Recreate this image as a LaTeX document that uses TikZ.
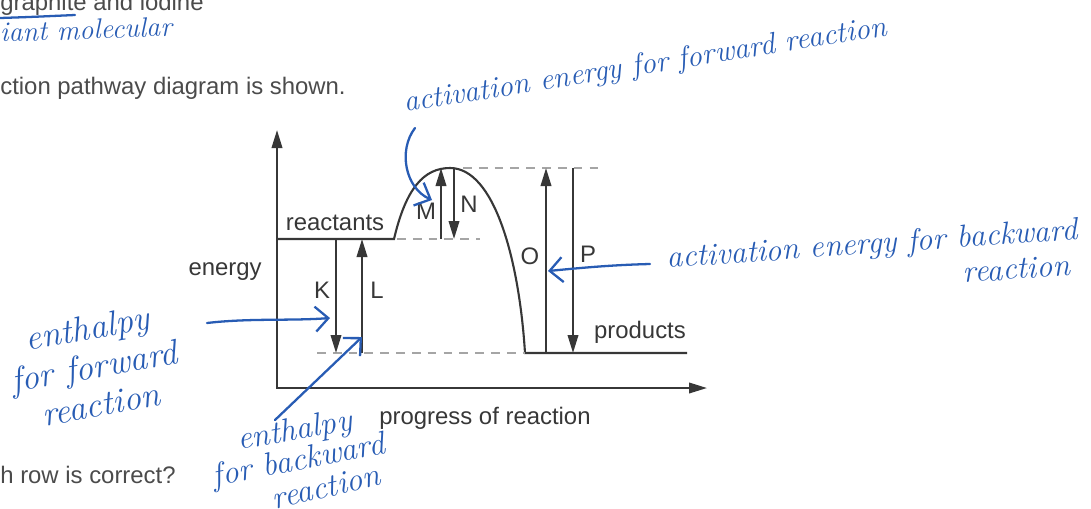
\documentclass[tikz,border=0pt]{standalone}
\usepackage{fontspec}
\newfontfamily\printfont{Liberation Sans}
\usetikzlibrary{arrows.meta}
\definecolor{InkGrey}{RGB}{55,55,55}
\definecolor{DashGrey}{RGB}{165,165,165}
\definecolor{TextGrey}{RGB}{75,75,75}
\definecolor{PenBlue}{RGB}{40,92,180}
\tikzset{
  >={Triangle[length=0.36cm,width=0.21cm]},
  axisline/.style={<->, line width=1.2pt, draw=InkGrey},
  levelline/.style={line width=1.2pt, draw=InkGrey},
  guide/.style={line width=0.9pt, draw=DashGrey, dash pattern=on 5pt off 4pt},
  gaparrow/.style={->, line width=1.2pt, draw=InkGrey},
  printlabel/.style={font=\printfont\fontsize{13.6}{16}\selectfont, text=InkGrey, inner sep=0pt, anchor=base},
  qtext/.style={printlabel, text=TextGrey, anchor=base west},
  inkline/.style={line width=1.3pt, draw=PenBlue, line cap=round, line join=round},
  inkarrow/.style={inkline, -{Straight Barb[length=0.26cm,width=0.5cm]}},
  inknote/.style args={#1/#2}{font=\itshape\fontsize{#1}{#2}\selectfont, text=PenBlue, inner sep=0pt, align=center},
}
\begin{document}
\begin{tikzpicture}[x=0.02cm, y=-0.02cm]
  \useasboundingbox (0,0) rectangle (1091,508);
  \clip (0,0) rectangle (1091,508);
  % question text
  \node[qtext] (qtop) at (0,10) {graphite and iodine};
  \node[qtext] (qpath) at (0,94) {ction pathway diagram is shown.};
  \node[qtext] (qrow) at (0,483) {h row is correct?};
  % axes
  \coordinate (ytip) at (277,130);
  \coordinate (xtip) at (707,388);
  \draw[axisline] (ytip) |- (xtip);
  \node[printlabel, anchor=base east] (elab) at (262,275) {energy};
  \node[printlabel] (plab) at (485,424) {progress of reaction};
  % energy profile
  \coordinate (rstart) at (277,239);
  \coordinate (hump) at (394,239);
  \coordinate (peak) at (450,168);
  \coordinate (drop) at (525,353);
  \coordinate (pend) at (687,353);
  \draw[levelline] (rstart) -- (hump)
    .. controls (406,188) and (424,168) .. (peak)
    .. controls (494,168) and (519,258) .. (drop) -- (pend);
  \node[printlabel] (rlab) at (335,230) {reactants};
  \node[printlabel] (prlab) at (640,338) {products};
  % guide lines
  \draw[guide] (463,168) -- (602,168);
  \draw[guide] (397,239) -- (480,239);
  \draw[guide] (317,353) -- (drop);
  % K to P
  \foreach \name/\x/\ya/\yb in {K/336/239/353, L/362/353/239, M/441/239/168,
      N/454/168/239, O/546/353/168, P/573/168/353} {
    \coordinate (\name-s) at (\x,\ya);
    \coordinate (\name-e) at (\x,\yb);
    \draw[gaparrow] (\name-s) -- (\name-e);
  }
  \foreach \name/\lx/\ly in {K/322/298, L/377/298, M/426/219, N/469/212, O/530/264, P/588/262}
    \node[printlabel] (lab\name) at (\lx,\ly) {\name};
  % handwritten notes
  \draw[inkline] (0,18) .. controls (30,17) .. (75,15);
  \node[inknote=16/18, rotate=2, anchor=base west] (giant) at (0,42) {iant molecular};
  \node[inknote=17.2/20, rotate=9, anchor=base west] (fwdEa) at (405,112) {activation energy for forward reaction};
  \node[inknote=18/20, rotate=4, anchor=base west] (bwdEa) at (667,268) {activation energy for backward};
  \node[inknote=18/20, rotate=4, anchor=base] (bwdEb) at (1017,279) {reaction};
  \node[inknote=20/22, rotate=10] (fwdH) at (94,366) {enthalpy\\for forward\\reaction};
  \node[inknote=18.5/20, rotate=10] (bwdHa) at (295,432) {enthalpy};
  \node[inknote=18.5/20, rotate=11] (bwdHb) at (299,462) {for backward};
  \node[inknote=18.5/20, rotate=13] (bwdHc) at (326,487) {reaction};
  % pointers
  \coordinate (fwdEa-s) at (415,128);
  \coordinate (fwdEa-e) at (432,200);
  \coordinate (bwdEa-s) at (650,264);
  \coordinate (bwdEa-e) at (548,271);
  \coordinate (fwdH-s) at (207,323);
  \coordinate (fwdH-e) at (330,318);
  \coordinate (bwdH-s) at (275,420);
  \coordinate (bwdH-e) at (362,337);
  \draw[inkarrow] (fwdEa-s) .. controls (398,150) and (405,188) .. (fwdEa-e);
  \draw[inkarrow] (bwdEa-s) .. controls (610,265) and (580,268) .. (bwdEa-e);
  \draw[inkarrow] (fwdH-s) .. controls (250,318) and (290,321) .. (fwdH-e);
  \draw[inkarrow] (bwdH-s) -- (bwdH-e);
\end{tikzpicture}
\end{document}
